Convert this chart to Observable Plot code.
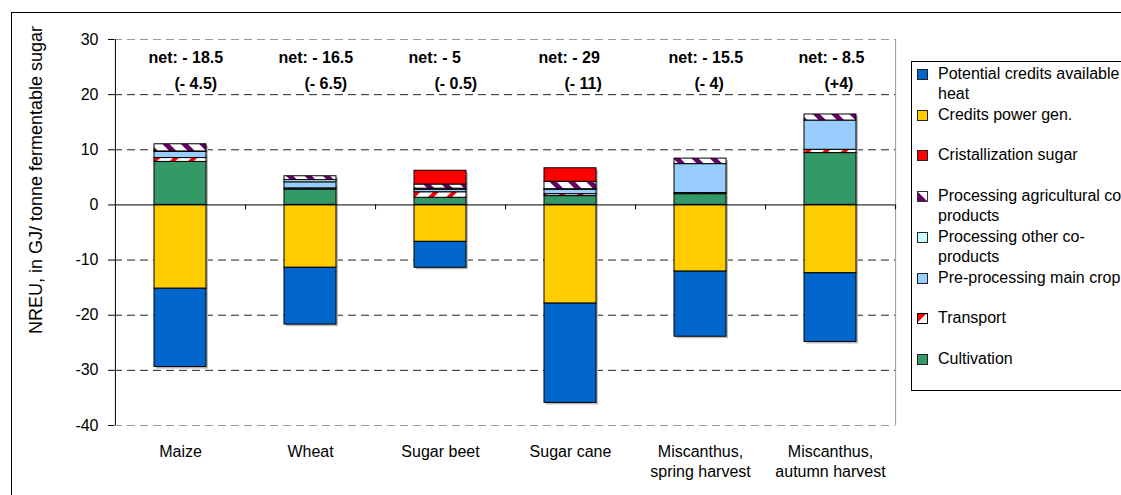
<!DOCTYPE html>
<html><head><meta charset="utf-8">
<script src="https://cdn.jsdelivr.net/npm/d3@7"></script>
<script src="https://cdn.jsdelivr.net/npm/@observablehq/plot@0.6"></script>
<style>
html,body{margin:0;padding:0;background:#fff;overflow:hidden;width:1121px;height:495px;}
#wrap{position:relative;width:1121px;height:495px;overflow:hidden;font-family:"Liberation Sans",Arial,sans-serif;color:#000;}
#frame{position:absolute;left:11px;top:12px;width:1300px;height:700px;border:1px solid #000;box-sizing:border-box;}
#chart{position:absolute;left:0;top:0;}
#ytitle{position:absolute;left:36px;top:180px;transform:translate(-50%,-50%) rotate(-90deg);white-space:nowrap;font-size:18px;}
#legend{position:absolute;left:911px;top:61px;width:400px;height:330px;border:1px solid #000;background:#fff;box-sizing:border-box;}
.item{position:absolute;left:5px;font-size:16px;line-height:20px;white-space:pre;}
.item svg{position:absolute;left:0;top:5px;}
.item span{position:absolute;left:21px;top:0;}
</style>
</head><body>
<div id="wrap">
  <div id="frame"></div>
  <div id="chart"></div>
  <div id="ytitle">NREU, in GJ/ tonne fermentable sugar</div>
  <div id="legend"></div>
</div>
<script>
// ---------- data ----------
const categories = ["Maize","Wheat","Sugar beet","Sugar cane","Miscanthus, spring harvest","Miscanthus, autumn harvest"];
const categoryLabels = ["Maize","Wheat","Sugar beet","Sugar cane","Miscanthus,\nspring harvest","Miscanthus,\nautumn harvest"];
const cultivation     = [7.8, 2.8, 1.3, 1.6, 1.95, 9.4];
const transport       = [0.7, 0.2, 1.0, 0.35, 0.2, 0.6];
const preProcessing   = [1.1, 1.1, 0.45, 0.8, 5.25, 5.3];
const otherCoProducts = [0.1, 0.4, 0.2, 0.1, 0, 0];
const agriCoProducts  = [1.3, 0.7, 0.75, 1.35, 1.0, 1.1];
const cristallization = [0, 0, 2.5, 2.45, 0, 0];
const creditsPower    = [-15.2, -11.4, -6.7, -17.9, -12.1, -12.4];
const creditsHeat     = [-14.2, -10.3, -4.7, -18.0, -11.8, -12.45];
const netLabels   = ["net: - 18.5","net: - 16.5","net: - 5","net: - 29","net: - 15.5","net: - 8.5"];
const netBrackets = ["(- 4.5)","(- 6.5)","(- 0.5)","(- 11)","(- 4)","(+4)"];
const seriesNames = ["Cultivation","Transport","Pre-processing main crop","Processing other co-products",
  "Processing agricultural co-products","Cristallization sugar","Credits power gen.","Potential credits available heat"];
const seriesValues = [cultivation, transport, preProcessing, otherCoProducts, agriCoProducts, cristallization, creditsPower, creditsHeat];
const seriesFills = ["#339966","url(#hatchRed)","#99CCFF","#CCFFFF","url(#hatchPurple)","#FF0000","#FFCC00","#0066CC"];
const legendOrder = ["Potential credits available heat","Credits power gen.","Cristallization sugar",
  "Processing agricultural co-products","Processing other co-products","Pre-processing main crop","Transport","Cultivation"];
const legendLabels = ["Potential credits available\nheat","Credits power gen.","Cristallization sugar",
  "Processing agricultural co-\nproducts","Processing other co-\nproducts","Pre-processing main crop","Transport","Cultivation"];
const yTicks = [-40,-30,-20,-10,0,10,20,30];

// ---------- table ----------
const rows = [];
seriesNames.forEach((s, si) => categories.forEach((c, ci) => {
  const v = seriesValues[si][ci];
  if (v !== 0) rows.push({category: c, series: s, value: v});
}));
const labelOf = new Map(categories.map((c, i) => [c, categoryLabels[i]]));

// ---------- layout ----------
const W = 905, H = 495, mL = 114, mR = 10, mT = 39, mB = 70;
const step = (W - mL - mR) / categories.length;

const chart = Plot.plot({
  width: W, height: H,
  marginLeft: mL, marginRight: mR, marginTop: mT, marginBottom: mB,
  style: {fontFamily: '"Liberation Sans", Arial, sans-serif', fontSize: "16px", color: "#000", background: "transparent", overflow: "visible"},
  x: {domain: categories, paddingInner: 0.6, paddingOuter: 0.3, label: null},
  y: {domain: [-40, 30], label: null},
  color: {type: "ordinal", domain: seriesNames, range: seriesFills},
  marks: [
    Plot.ruleY(yTicks.filter(t => t !== 0 && t !== 30 && t !== -40), {stroke: "#222", strokeDasharray: "8,5", strokeWidth: 1}),
    Plot.ruleY([30, -40], {stroke: "#999", strokeDasharray: "8,5", strokeWidth: 1}),
    Plot.ruleX([categories[categories.length - 1]], {dx: step / 2, y1: -40, y2: 30, stroke: "#999"}),
    Plot.barY(rows, {x: "category", y: "value", order: seriesNames, z: "series", fill: "#bbb", dx: 2, dy: 2}),
    Plot.barY(rows, {x: "category", y: "value", fill: "series", order: seriesNames, stroke: "#000", strokeWidth: 1}),
    Plot.ruleY([0], {stroke: "#000", strokeWidth: 1}),
    Plot.ruleX(categories, {x: d => d, dx: step / 2, y1: 0, y2: -0.9, stroke: "#000"}),
    Plot.ruleX([categories[0]], {dx: -step / 2, y1: -40, y2: 30, stroke: "#000"}),
    Plot.axisY({ticks: yTicks, tickSize: 6, tickPadding: 10, fontSize: 16, tickFormat: d => String(d), label: null}),
    Plot.axisX({anchor: "bottom", tickSize: 0, tickPadding: 17, fontSize: 16, lineHeight: 1.25, tickFormat: d => labelOf.get(d), label: null}),
    Plot.text(categories, {x: d => d, text: (d, i) => netLabels[i], frameAnchor: "top", lineAnchor: "middle", textAnchor: "start", dx: -32, dy: 18, fontWeight: "bold", fontSize: 16}),
    Plot.text(categories, {x: d => d, text: (d, i) => netBrackets[i], frameAnchor: "top", lineAnchor: "middle", textAnchor: "start", dx: -6, dy: 44, fontWeight: "bold", fontSize: 16})
  ]
});

// patterns
const svg = d3.select(chart);
const defs = svg.insert("defs", ":first-child");
function hatch(id, color, angle, w) {
  const p = defs.append("pattern").attr("id", id).attr("patternUnits", "userSpaceOnUse")
    .attr("width", 13).attr("height", 13).attr("patternTransform", `rotate(${angle})`);
  p.append("rect").attr("width", 13).attr("height", 13).attr("fill", "#fff");
  p.append("rect").attr("x", 0).attr("width", w).attr("height", 13).attr("fill", color);
}
hatch("hatchPurple", "#660066", -45, 5);
hatch("hatchRed", "#FF0000", 45, 4);
document.getElementById("chart").appendChild(chart);

// legend
const legend = document.getElementById("legend");
const fillOf = new Map(seriesNames.map((s, i) => [s, seriesFills[i]]));
legendOrder.forEach((s, i) => {
  const div = document.createElement("div");
  div.className = "item";
  div.style.top = (2 + i * 40.7) + "px";
  const f = fillOf.get(s);
  let sw;
  if (f === "url(#hatchPurple)") {
    sw = `<svg width="11" height="11"><rect x="0.5" y="0.5" width="10" height="10" fill="#fff" stroke="#333"/><polygon points="1,1 10,10 1,10" fill="#660066"/><rect x="0.5" y="0.5" width="10" height="10" fill="none" stroke="#333"/></svg>`;
  } else if (f === "url(#hatchRed)") {
    sw = `<svg width="11" height="11"><rect x="0.5" y="0.5" width="10" height="10" fill="#fff" stroke="#000"/><polygon points="1,1 9,1 1,9" fill="#FF0000"/><rect x="0.5" y="0.5" width="10" height="10" fill="none" stroke="#000"/></svg>`;
  } else {
    sw = `<svg width="11" height="11"><rect x="0.5" y="0.5" width="10" height="10" fill="${f}" stroke="#222"/></svg>`;
  }
  div.innerHTML = sw + `<span></span>`;
  div.querySelector("span").textContent = legendLabels[i];
  legend.appendChild(div);
});
</script>
</body></html>
